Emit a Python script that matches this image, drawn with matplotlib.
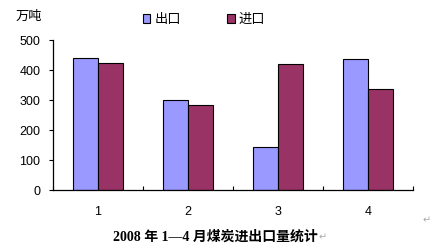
import matplotlib
matplotlib.use("Agg")
import matplotlib.pyplot as plt
import numpy as np

categories = ["1", "2", "3", "4"]
export_vals = [440, 300, 145, 438]
import_vals = [425, 285, 420, 338]
series_names = ["出口", "进口"]
yticks = [0, 100, 200, 300, 400, 500]

plt.rcParams['font.family'] = ['Liberation Sans', 'Noto Sans CJK SC', 'DejaVu Sans']

fig = plt.figure(figsize=(4.33, 2.47), dpi=100)
ax = fig.add_axes([53/433, 1-190.3/247, 360/433, 150.3/247])

x = np.arange(len(categories))
w = 0.283
b1 = ax.bar(x - w/2, export_vals, w, color="#9999FF", edgecolor="black", linewidth=0.8, label=series_names[0])
b2 = ax.bar(x + w/2, import_vals, w, color="#993366", edgecolor="black", linewidth=0.8, label=series_names[1])

ax.set_xlim(-0.5, len(categories) - 0.5)
ax.set_ylim(0, 500)
ax.set_yticks(yticks)
ax.set_yticklabels([str(v) for v in yticks], fontsize=9)
ax.tick_params(axis='y', direction='out', length=3, width=0.8, pad=6)

ax.set_xticks(np.arange(-0.5, len(categories)), minor=False)
ax.set_xticklabels([])
ax.tick_params(axis='x', which='major', direction='in', length=3, width=0.8)
ax.set_xticks(x, minor=True)
ax.set_xticklabels(categories, minor=True, fontsize=9)
ax.tick_params(axis='x', which='minor', length=0, pad=11)

for s in ['top', 'right']:
    ax.spines[s].set_visible(False)
for s in ['left', 'bottom']:
    ax.spines[s].set_linewidth(0.9)

fig.text(29/433, 1-17/247, "万吨", ha='center', va='center', fontsize=9.5)

fig.legend(handles=[b1, b2], labels=series_names, loc='center',
           bbox_to_anchor=(204/433, 1-20/247), ncol=2, frameon=False,
           fontsize=9.5, handlelength=0.6, handleheight=0.6, handletextpad=0.3,
           columnspacing=3.5, borderpad=0)

fig.text(215/433, 1-237/247, "2008 年 1—4 月煤炭进出口量统计",
         ha='center', va='center', fontsize=10, fontweight='bold',
         family=['Liberation Serif', 'Noto Sans CJK SC'])
fig.text(323/433, 1-237/247, "↵", ha='center', va='center', fontsize=7,
         color='#aaaaaa', family=['DejaVu Sans'])
fig.text(427/433, 1-220/247, "↵", ha='center', va='center', fontsize=7,
         color='#aaaaaa', family=['DejaVu Sans'])

fig.savefig("out.png", dpi=100)
